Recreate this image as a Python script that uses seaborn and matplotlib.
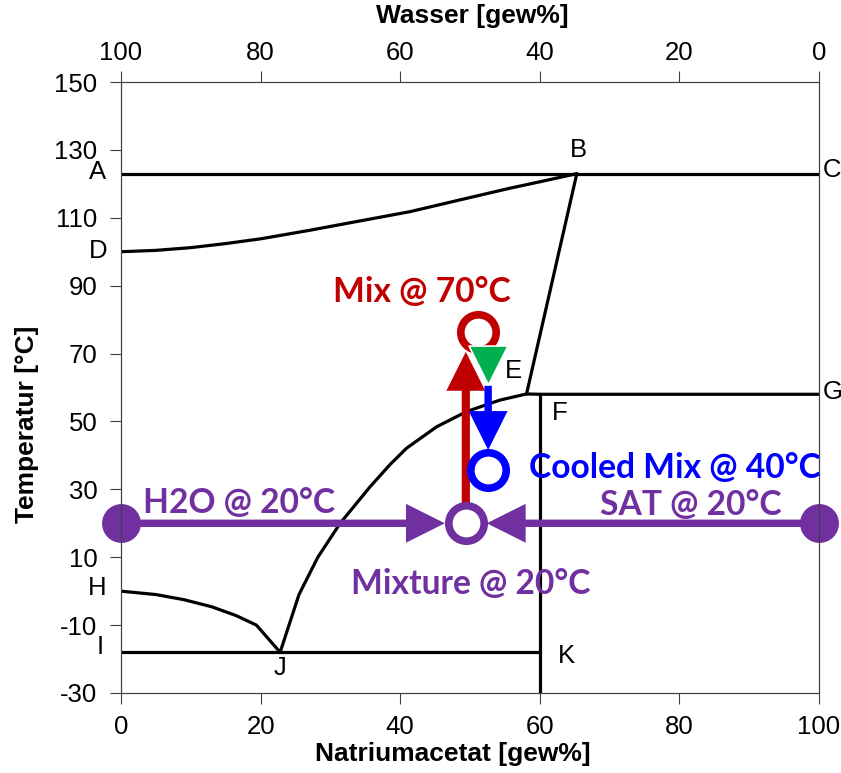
import seaborn as sns
from matplotlib import pyplot as plt

# phase boundaries (Natriumacetat gew%, Temperatur °C)
ac_x = [0, 100]
ac_y = [123, 123]
db_x = [0, 5, 10, 15, 20, 27, 33, 41.4, 48, 55.7, 60, 65.3]
db_y = [100, 100.4, 101.2, 102.4, 103.8, 106.3, 108.6, 111.8, 115, 118.7, 120.6, 123]
be_x = [65.3, 58.1]
be_y = [123, 58.1]
eg_x = [58.1, 60, 100]
eg_y = [58.1, 58, 58]
fk_x = [60, 60]
fk_y = [58, -30]
hj_x = [0, 5, 9, 13, 16.5, 19.4, 22.8]
hj_y = [0, -1, -2.5, -4.6, -7.2, -10, -18]
je_x = [22.8, 25.5, 28.2, 31.4, 35.7, 38.5, 40.9, 45.2, 49.5, 54.3, 58.1]
je_y = [-18, -1, 10, 20, 30.8, 37.2, 42.1, 48.4, 52.9, 56.3, 58.1]
ik_x = [0, 60]
ik_y = [-18, -18]

point_names = ["A", "B", "C", "D", "E", "F", "G", "H", "I", "J", "K"]
point_x = [-3.4, 65.5, 101.8, -3.3, 56.2, 62.9, 101.9, -3.4, -3.05, 22.85, 63.75]
point_y = [123.6, 130, 124.1, 100.2, 65.0, 52.5, 58.7, 0.9, -16.5, -22.7, -19.0]

# process states
h2o = (0, 20)
sat = (100, 20)
mixture = (49.4, 20)
mix70 = (51.2, 76.4)
cooled = (52.6, 35.7)
green_mark = (52.6, 66.5)
red_arrow = [(49.4, 20), (49.4, 70.5)]
blue_arrow = [(52.6, 60.5), (52.6, 41.6)]
h2o_arrow = [(0, 20), (46.4, 20)]
sat_arrow = [(100, 20), (52.4, 20)]

PURPLE = "#7030A0"
RED = "#C00000"
BLUE = "#0000FF"
GREEN = "#00B050"

sns.set_style("white")
plt.rcParams["font.family"] = ["Liberation Sans", "DejaVu Sans"]
plt.rcParams["axes.unicode_minus"] = False
plt.rcParams["text.color"] = "black"
plt.rcParams["axes.labelcolor"] = "black"

fig = plt.figure(figsize=(8.41, 7.73), dpi=100)
ax = fig.add_axes([121 / 841, 1 - 693 / 773, 698 / 841, 611 / 773])

for xs, ys in [(ac_x, ac_y), (db_x, db_y), (be_x, be_y), (eg_x, eg_y),
               (fk_x, fk_y), (hj_x, hj_y), (je_x, je_y), (ik_x, ik_y)]:
    sns.lineplot(x=xs, y=ys, sort=False, estimator=None, color="black",
                 linewidth=2.3, ax=ax, zorder=2)

for name, x, y in zip(point_names, point_x, point_y):
    ax.text(x, y, name, ha="center", va="center", fontsize=18.5, clip_on=False)


def arrow(start, end, color, tail):
    ax.annotate("", xy=end, xytext=start,
                arrowprops=dict(arrowstyle=f"simple,head_length=1,head_width=1,tail_width={tail}",
                                mutation_scale=28, color=color, lw=0,
                                shrinkA=0, shrinkB=0),
                zorder=4, annotation_clip=False)


arrow(*h2o_arrow, PURPLE, 0.19)
arrow(*sat_arrow, PURPLE, 0.19)
arrow(*red_arrow, RED, 0.21)
arrow(*blue_arrow, BLUE, 0.19)

# filled end points
sns.scatterplot(x=[h2o[0], sat[0]], y=[h2o[1], sat[1]], s=784, color=PURPLE,
                linewidth=0, ax=ax, clip_on=False, zorder=5)
# open state circles
for pt, col in [(mixture, PURPLE), (mix70, RED), (cooled, BLUE)]:
    sns.scatterplot(x=[pt[0]], y=[pt[1]], s=650, facecolor="white", edgecolor=col,
                    linewidth=5.5, ax=ax, clip_on=False, zorder=5)
sns.scatterplot(x=[green_mark[0]], y=[green_mark[1]], marker="v", s=784, color=GREEN,
                edgecolor="white", linewidth=1.2, ax=ax, zorder=6)

lab = dict(fontfamily="Lato", fontweight="bold", fontsize=24.2, va="baseline")
ax.text(43.1, 85.3, "Mix @ 70°C", color=RED, ha="center", **lab)
ax.text(3.1, 22.9, "H2O @ 20°C", color=PURPLE, ha="left", **lab)
ax.text(94.65, 22.4, "SAT @ 20°C", color=PURPLE, ha="right", **lab)
ax.text(58.5, 33.2, "Cooled Mix @ 40°C", color=BLUE, ha="left", **lab)
ax.text(50.1, -0.7, "Mixture @ 20°C", color=PURPLE, ha="center", **lab)

ax.set_xlim(0, 100)
ax.set_ylim(-30, 150)
ax.set_xticks(range(0, 101, 20))
ax.set_yticks(range(-30, 151, 20))
ax.set_xlabel("Natriumacetat [gew%]", fontsize=19, fontweight="bold")
ax.set_ylabel("Temperatur [°C]", fontsize=19, fontweight="bold")
ax.xaxis.set_label_coords(0.476, -0.080)
ax.yaxis.set_label_coords(-0.118, 0.440)
ax.tick_params(axis="both", direction="out", length=8, width=0.8, color="#404040",
               labelsize=18.5, labelcolor="black")
ax.tick_params(axis="x", pad=8, bottom=True)
ax.tick_params(axis="y", pad=9, left=True)

ax2 = ax.twiny()
ax2.set_xlim(100, 0)
ax2.set_xticks(range(0, 101, 20))
ax2.set_xlabel("Wasser [gew%]", fontsize=19, fontweight="bold")
ax2.xaxis.set_label_coords(0.504, 1.097)
ax2.tick_params(axis="x", direction="out", length=8, width=0.8, color="#404040",
                labelsize=18.5, labelcolor="black", pad=4.5, top=True)

for a in (ax, ax2):
    for sp in a.spines.values():
        sp.set_color("#404040")
        sp.set_linewidth(0.8)

fig.savefig("out.png", dpi=100)
